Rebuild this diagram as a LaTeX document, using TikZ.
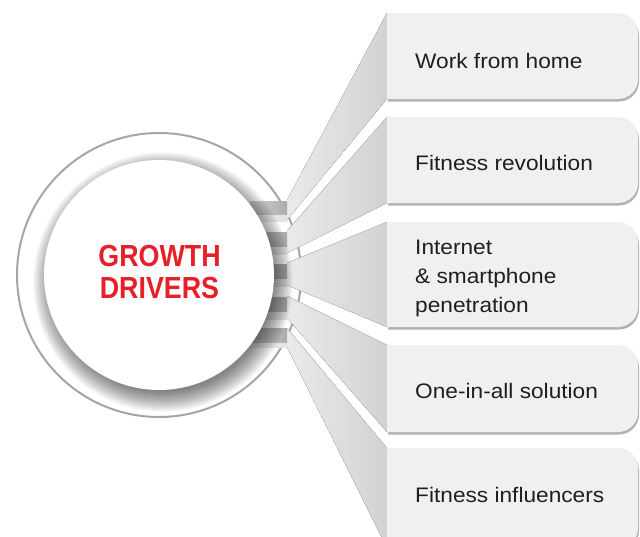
\documentclass[tikz,border=0pt]{standalone}
\usepackage{fontspec}
\setmainfont{Liberation Sans}
\newfontfamily\titlefont[FakeStretch=0.88]{Liberation Sans}
\newfontfamily\labelfont[FakeStretch=1.08]{Liberation Sans}
\usetikzlibrary{shadows}
\definecolor{boxfill}{RGB}{240,240,240}
\definecolor{funL}{RGB}{234,234,234}
\definecolor{funR}{RGB}{210,210,210}
\definecolor{tabdark}{RGB}{172,172,172}
\definecolor{ringline}{RGB}{165,165,165}
\definecolor{titlered}{RGB}{232,30,40}
\tikzset{
  lbl/.style={anchor=base west, inner sep=0pt, text=black!88,
    font=\labelfont\fontsize{21}{25}\selectfont},
  ttl/.style={anchor=base, inner sep=0pt, text=titlered,
    font=\titlefont\bfseries\fontsize{30.5}{34}\selectfont},
  funnel/.style={left color=funL, right color=funR},
  groove/.style={gray!45, line width=0.7pt},
  boxshape/.style={fill=boxfill, drop shadow={shadow xshift=1pt, shadow yshift=-2.5pt, opacity=0.3, fill=black}}
}
\newcommand\gbox[2]{%
  \path[boxshape] (387,#1) -- (618,#1) arc[start angle=-90,end angle=0,radius=20]
    -- (638,{#2-20}) arc[start angle=0,end angle=90,radius=20] -- (387,#2) -- cycle;}
\newcommand\gtab[3]{%
  \fill[left color=tabdark!55!white, right color=tabdark] (250,#1) rectangle (287,#2);
  \fill[left color=gray!12, right color=gray!22] (250,#2) rectangle (287,#3);}
\begin{document}
\begin{tikzpicture}[x=1pt,y=-1pt]
\useasboundingbox (0,0) rectangle (640,536);
% outer ring
\draw[ringline, line width=2pt, fill=white] (159,275) circle[radius=142];
% funnels
\fill[funnel] (287,200) -- (387,13) -- (387,99) -- (287,220) -- cycle;
\fill[funnel] (287,231) -- (387,117) -- (387,203) -- (287,253) -- cycle;
\fill[funnel] (287,263) -- (387,222) -- (387,327) -- (287,285) -- cycle;
\fill[funnel] (287,296) -- (387,345) -- (387,432) -- (287,318) -- cycle;
\fill[funnel] (287,328) -- (387,448) -- (387,548) -- (287,347) -- cycle;
\draw[groove] (287,231) -- (387,117);
\draw[groove] (287,263) -- (387,222);
\draw[groove] (287,296) -- (387,345);
\draw[groove] (287,328) -- (387,448);
% tabs
\gtab{201}{215}{221}
\gtab{232}{247}{254}
\gtab{264}{279}{286}
\gtab{297}{312}{319}
\gtab{328}{343}{347}
% boxes
\gbox{13}{99}
\gbox{117}{203}
\gbox{222}{327}
\gbox{345}{432}
\gbox{448}{548}
% inner shadow
\foreach \r in {110,...,130}
  \fill[black, fill opacity=0.028] (163,282) circle[radius=\r];
\fill[white] (159,275) circle[radius=115];
% title
\node[ttl] (g1) at (159.5,266) {GROWTH};
\node[ttl] (g2) at (159.5,298) {DRIVERS};
% labels
\node[lbl] (t1) at (415,68) {Work from home};
\node[lbl] (t2) at (415,170) {Fitness revolution};
\node[lbl] (t3a) at (415,254) {Internet};
\node[lbl] (t3b) at (415,283) {\& smartphone};
\node[lbl] (t3c) at (415,312) {penetration};
\node[lbl] (t4) at (415,398) {One-in-all solution};
\node[lbl] (t5) at (415,502) {Fitness influencers};
\end{tikzpicture}
\end{document}
